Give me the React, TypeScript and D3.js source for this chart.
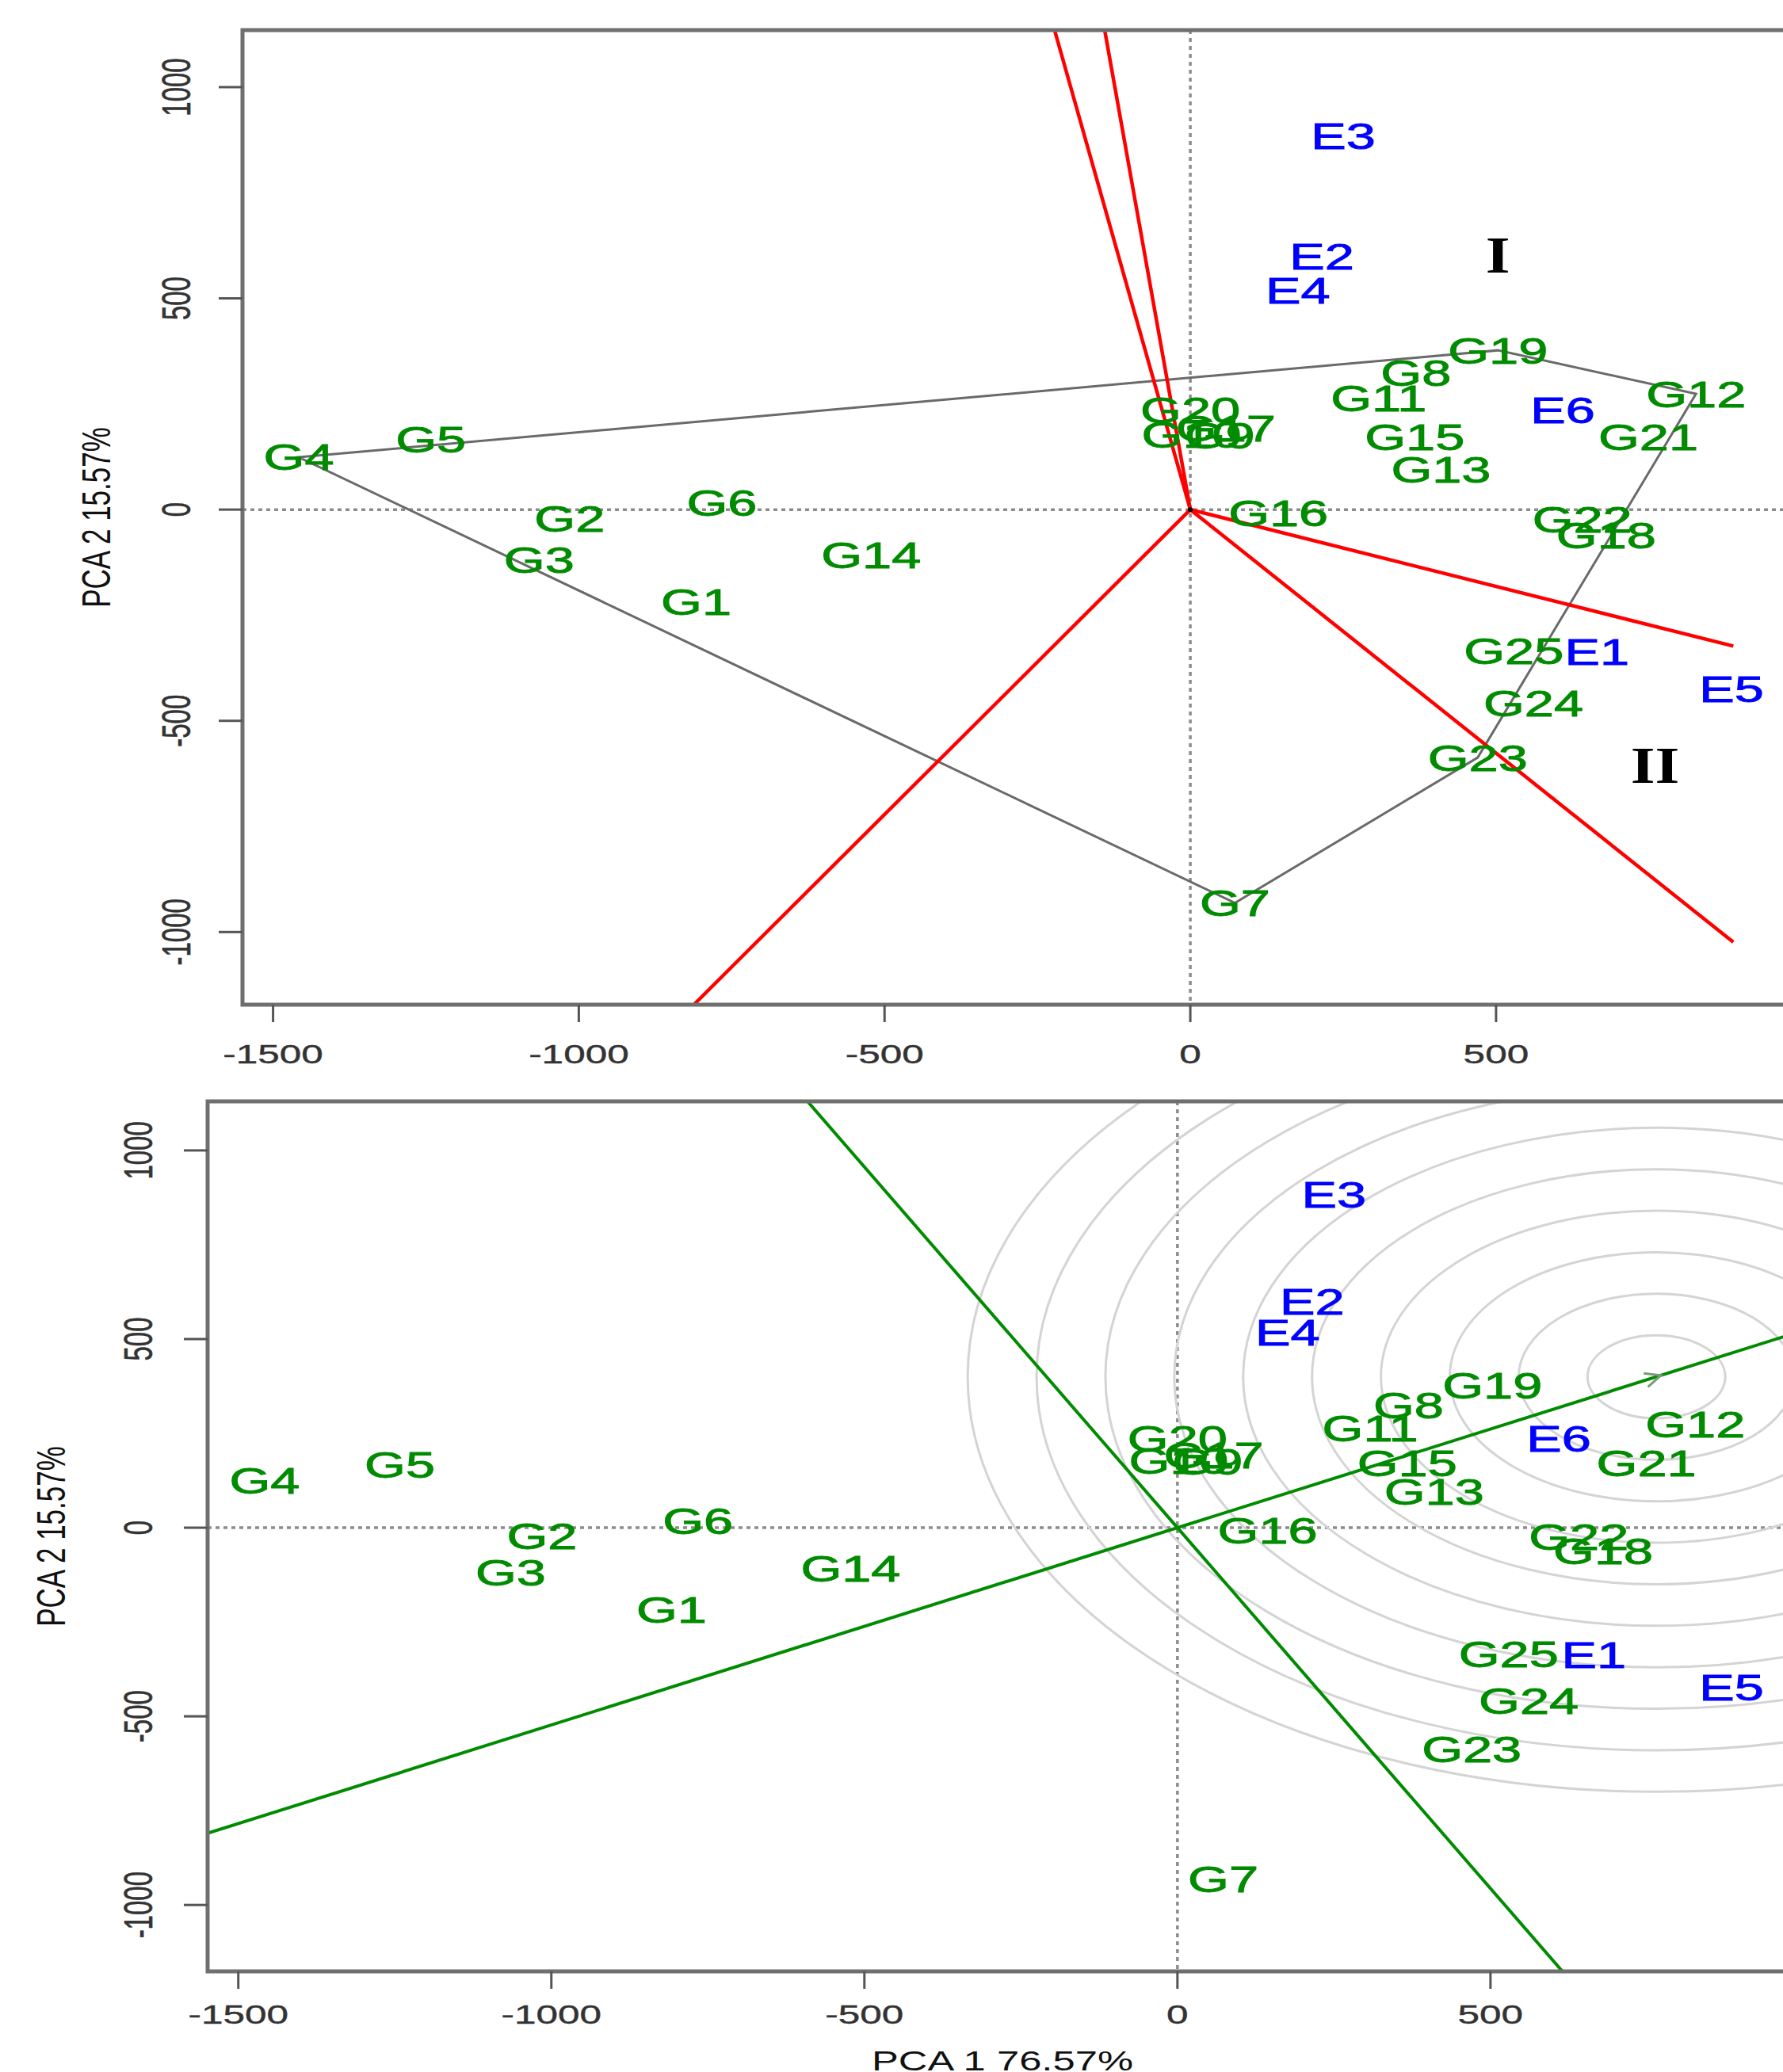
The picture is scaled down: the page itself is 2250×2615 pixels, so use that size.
import React from 'react';
import * as d3 from 'd3';

// ---------- data ----------
const genotypes = ['G1','G2','G3','G4','G5','G6','G7','G8','G9','G10','G11','G12','G13','G14','G15','G16','G17','G18','G19','G20','G21','G22','G23','G24','G25'];
const genoPC1 = [-808,-1015,-1065,-1458,-1242,-766,73,369,48,2,308,827,410,-522,367,144,58,680,503,0,749,641,470,561,529];
const genoPC2 = [-218,-21,-118,124,167,17,-931,324,176,178,264,274,95,-108,171,-8,193,-61,377,236,171,-24,-587,-459,-334];

const environments = ['E1','E2','E3','E4','E5','E6'];
const envPC1 = [665,215,250,176,885,609];
const envPC2 = [-336,599,884,518,-424,236];

const hullOrder = ['G4','G19','G12','G23','G7'];
const sectorRayPC1 = [-222,-140,-812,888,888];
const sectorRayPC2 = [1135,1135,-1172,-323,-1024];

const sectorNames = ['I','II'];
const sectorNamePC1 = [503,760];
const sectorNamePC2 = [606,-602];

const idealPoint = [765,400];
const circleRadii = [110,220,330,440,550,660,770,880,990,1100];

const xTicks = [-1500,-1000,-500,0,500];
const yTicks = [-1000,-500,0,500,1000];
const xTitle = 'PCA 1 76.57%';
const yTitle = 'PCA 2 15.57%';

// ---------- style ----------
const W = 2250, H = 2615;
const S = 1.45; // horizontal text stretch
const FONT = '"Liberation Sans", Arial, Helvetica, sans-serif';
const GREEN = '#008B00';
const BLUE = '#0000FF';
const FRAME = '#6f6f6f';

type Sc = d3.ScaleLinear<number, number>;

function SText(props: {x:number; y:number; size:number; fill:string; text:string; rotate?:boolean; stretch?:number; family?:string; weight?:string; stroke?:number}) {
  const { x, y, size, fill, text, rotate, family, weight } = props;
  const st = props.stretch ?? S;
  const off = 0.358 * size;
  const tr = rotate
    ? `translate(${x},${y}) scale(${st},1) rotate(-90)`
    : `translate(${x},${y}) scale(${st},1)`;
  return (
    <text transform={tr} x={0} y={off} textAnchor="middle" fontSize={size} fill={fill}
      stroke={props.stroke ? fill : 'none'} strokeWidth={props.stroke ?? 0}
      fontFamily={family ?? FONT} fontWeight={weight ?? 'normal'}>{text}</text>
  );
}

function Panel(props: {id:string; xs:Sc; ys:Sc; tickLabelY:number; yTickLabelX:number; yTitleX:number; children?: React.ReactNode}) {
  const { id, xs, ys, tickLabelY, yTickLabelX, yTitleX } = props;
  const [x0, x1] = xs.range();
  const [y1, y0] = ys.range();
  const left = x0, top = y0, right = x1, bottom = y1;
  const ox = xs(0), oy = ys(0);
  const labels = [
    ...genotypes.map((g, i) => ({ t: g, x: genoPC1[i], y: genoPC2[i], c: GREEN })),
    ...environments.map((e, i) => ({ t: e, x: envPC1[i], y: envPC2[i], c: BLUE })),
  ];
  return (
    <g>
      <defs>
        <clipPath id={id}>
          <rect x={left} y={top} width={right - left} height={bottom - top} />
        </clipPath>
      </defs>
      <g clipPath={`url(#${id})`}>
        <line x1={left} x2={right} y1={oy} y2={oy} stroke="#8c8c8c" strokeWidth={3.5} strokeDasharray="5 5" />
        <line x1={ox} x2={ox} y1={top} y2={bottom} stroke="#8c8c8c" strokeWidth={3.5} strokeDasharray="5 5" />
        {props.children}
        {labels.map((l) => (
          <SText key={l.t} x={xs(l.x)} y={ys(l.y)} size={46} fill={l.c} text={l.t} stroke={0.9} />
        ))}
      </g>
      {/* frame */}
      <rect x={left} y={top} width={right - left} height={bottom - top} fill="none" stroke={FRAME} strokeWidth={5} />
      {/* x ticks */}
      {xTicks.map((t) => (
        <g key={'x' + t}>
          <line x1={xs(t)} x2={xs(t)} y1={bottom} y2={bottom + 22} stroke="#555" strokeWidth={3} />
          <SText x={xs(t)} y={tickLabelY} size={33} fill="#333" text={String(t)} stretch={1.5} stroke={0.4} />
        </g>
      ))}
      {/* y ticks */}
      {yTicks.map((t) => (
        <g key={'y' + t}>
          <line x1={left} x2={left - 30} y1={ys(t)} y2={ys(t)} stroke="#555" strokeWidth={3} />
          <SText x={yTickLabelX} y={ys(t)} size={33} fill="#333" text={String(t)} rotate stretch={1.5} stroke={0.4} />
        </g>
      ))}
      <SText x={yTitleX} y={(top + bottom) / 2} size={35} fill="#111" text={yTitle} rotate />
    </g>
  );
}

export default function App() {
  // top panel scales
  const xT = d3.scaleLinear().domain([-1550, 990]).range([306, 2266]);
  const yT = d3.scaleLinear().domain([-1172, 1135]).range([1268, 38]);
  // bottom panel scales
  const xB = d3.scaleLinear().domain([-1549, 990]).range([262, 2268]);
  const yB = d3.scaleLinear().domain([-1176, 1130]).range([2488, 1390]);

  const pos = (name: string) => {
    const i = genotypes.indexOf(name);
    return [genoPC1[i], genoPC2[i]] as [number, number];
  };
  const hullLine = d3.line<[number, number]>().x((d) => xT(d[0])).y((d) => yT(d[1])).curve(d3.curveLinearClosed);
  const hullPts = hullOrder.map(pos);

  const slope = idealPoint[1] / idealPoint[0];
  const far = 4000;
  const aec: [number, number][] = [[-far, -far * slope], [far, far * slope]];
  const perp: [number, number][] = [[-far / 2 * slope, far / 2], [far / 2 * slope, -far / 2]];

  const cx = xB(idealPoint[0]), cy = yB(idealPoint[1]);
  const kx = xB(1) - xB(0), ky = yB(0) - yB(1);
  const ang = Math.atan2(-idealPoint[1] * ky, idealPoint[0] * kx) * 180 / Math.PI;

  return (
    <svg width={W} height={H} viewBox={`0 0 ${W} ${H}`} style={{ position: 'absolute', left: 0, top: 0, background: '#fff' }}>
      <rect x={0} y={0} width={W} height={H} fill="#fff" />
      <Panel id="clipTop" xs={xT} ys={yT} tickLabelY={1330} yTickLabelX={222} yTitleX={121}>
        <path d={hullLine(hullPts) ?? ''} fill="none" stroke="#6a6a6a" strokeWidth={3} />
        {sectorRayPC1.map((rx, i) => (
          <line key={'ray' + i} x1={xT(0)} y1={yT(0)} x2={xT(rx)} y2={yT(sectorRayPC2[i])} stroke="#FF0000" strokeWidth={4.5} />
        ))}
        <circle cx={xT(0)} cy={yT(0)} r={3} fill="#000" />
        {sectorNames.map((s, i) => (
          <SText key={s} x={xT(sectorNamePC1[i])} y={yT(sectorNamePC2[i])} size={66} fill="#000" text={s}
            family='"Liberation Serif", "Times New Roman", serif' weight="bold" stretch={1.2} />
        ))}
      </Panel>
      <Panel id="clipBot" xs={xB} ys={yB} tickLabelY={2542} yTickLabelX={174} yTitleX={64}>
        {circleRadii.map((r) => (
          <ellipse key={'c' + r} cx={cx} cy={cy} rx={r * kx} ry={r * ky} fill="none" stroke="#d4d4d4" strokeWidth={3} />
        ))}
        <line x1={xB(aec[0][0])} y1={yB(aec[0][1])} x2={xB(aec[1][0])} y2={yB(aec[1][1])} stroke={GREEN} strokeWidth={4} />
        <line x1={xB(perp[0][0])} y1={yB(perp[0][1])} x2={xB(perp[1][0])} y2={yB(perp[1][1])} stroke={GREEN} strokeWidth={4} />
        <g transform={`translate(${cx},${cy}) rotate(${ang})`}>
          <path d="M-14,-9 L6,0 L-14,9" fill="none" stroke="#7a9a7a" strokeWidth={3} />
        </g>
      </Panel>
      <SText x={(xB.range()[0] + xB.range()[1]) / 2} y={2600} size={35} fill="#111" text={xTitle} />
    </svg>
  );
}
